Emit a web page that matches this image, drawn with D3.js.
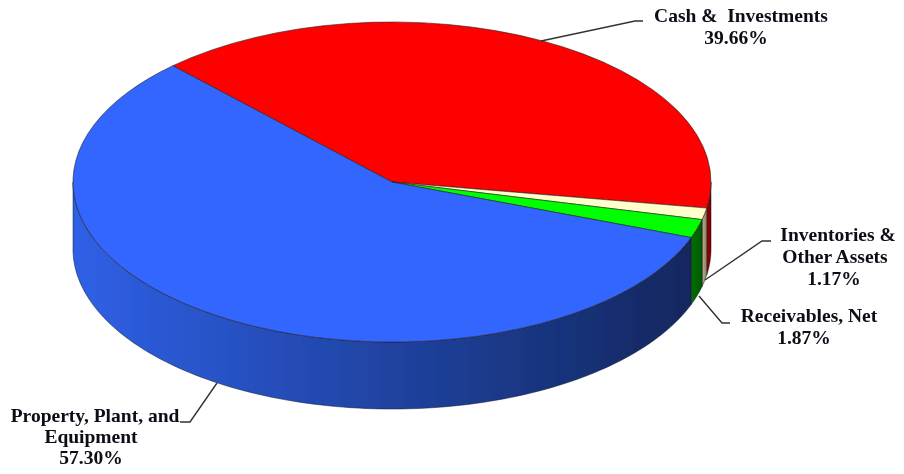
<!DOCTYPE html>
<html>
<head>
<meta charset="utf-8">
<script src="https://cdnjs.cloudflare.com/ajax/libs/d3/7.8.5/d3.min.js"></script>
<style>
  html, body { margin:0; padding:0; background:#fff; }
  svg { display:block; }
  .label { font-family:"Liberation Serif", serif; font-weight:bold; font-size:19.5px; fill:#0a0a18; text-anchor:middle; }
  .leader { fill:none; stroke:#333; stroke-width:1.4; }
</style>
</head>
<body>
<svg id="chart" width="904" height="474"></svg>
<script>
// Data
var categories = ["Cash & Investments", "Inventories & Other Assets", "Receivables, Net", "Property, Plant, and Equipment"];
var shares = [39.66, 1.17, 1.87, 57.30];
var topColors = ["#ff0000", "#ffffcc", "#00ff00", "#3366ff"];
var sideColorsLight = ["#a00000", "#b8b088", "#007000", "#2f60e6"];
var sideColorsDark = ["#7a0000", "#8a8060", "#005800", "#12275f"];

// Layout
var cx = 392, cy = 182, rx = 319, ry = 160, depth = 67;
var startAngle = -43.4 * Math.PI / 180;

var svg = d3.select("#chart");
var defs = svg.append("defs");

var soften = defs.append("filter").attr("id", "soften");
soften.append("feGaussianBlur").attr("stdDeviation", 0.4);

var pie = d3.pie().sort(null).value(function(d) { return d; })
            .startAngle(startAngle).endAngle(startAngle + 2 * Math.PI);
var slices = pie(shares);

var xAt = function(a) { return cx + rx * Math.sin(a); };
var yAt = function(a) { return cy - ry * Math.cos(a); };

// Side wall, only the front half of the rim shows
var wall = d3.area()
             .x(function(a) { return xAt(a); })
             .y0(function(a) { return yAt(a); })
             .y1(function(a) { return yAt(a) + depth; });

var chart = svg.append("g").attr("filter", "url(#soften)");

slices.forEach(function(s, i) {
  var a0 = Math.max(s.startAngle, Math.PI / 2);
  var a1 = Math.min(s.endAngle, 3 * Math.PI / 2);
  if (a1 <= a0) return;
  var angles = d3.range(0, 121).map(function(k) { return a0 + (a1 - a0) * k / 120; });
  var x0 = d3.min(angles, xAt), x1 = d3.max(angles, xAt);

  var grad = defs.append("linearGradient")
                 .attr("id", "side" + i)
                 .attr("gradientUnits", "userSpaceOnUse")
                 .attr("x1", x0).attr("x2", x1).attr("y1", 0).attr("y2", 0);
  grad.append("stop").attr("offset", 0).attr("stop-color", sideColorsLight[i]);
  grad.append("stop").attr("offset", 1).attr("stop-color", sideColorsDark[i]);

  chart.append("path")
       .attr("d", wall(angles))
       .attr("fill", "url(#side" + i + ")")
       .attr("stroke", "#101828")
       .attr("stroke-width", 0.5);
});

// Top face, drawn as a circle then squashed
var arc = d3.arc().innerRadius(0).outerRadius(rx);
chart.append("g")
     .attr("transform", "translate(" + cx + "," + cy + ") scale(1," + (ry / rx) + ")")
     .selectAll("path")
     .data(slices)
     .enter()
     .append("path")
     .attr("d", arc)
     .attr("fill", function(d, i) { return topColors[i]; })
     .attr("stroke", "#222")
     .attr("stroke-width", 0.6)
     .attr("vector-effect", "non-scaling-stroke");

// Leader lines
var leaders = [
  [[541, 41], [635, 21], [643, 21]],
  [[705, 280], [762, 241], [771, 241]],
  [[699, 296], [722, 323], [730, 323]],
  [[217, 383], [190, 422], [180, 422]]
];
var leaderLine = d3.line();
svg.selectAll(".leader")
   .data(leaders)
   .enter()
   .append("path")
   .attr("class", "leader")
   .attr("filter", "url(#soften)")
   .attr("d", leaderLine);

// Labels, each line centred where it sits in the picture
var labelLines = [
  ["Cash &  Investments", 741, 22],
  ["39.66%", 736, 44],
  ["Inventories &", 838, 241],
  ["Other Assets", 835, 263],
  ["1.17%", 834, 285],
  ["Receivables, Net", 809, 322],
  ["1.87%", 804, 344],
  ["Property, Plant, and", 95, 422],
  ["Equipment", 91, 443],
  ["57.30%", 91, 464]
];
svg.selectAll(".label")
   .data(labelLines)
   .enter()
   .append("text")
   .attr("class", "label")
   .attr("x", function(d) { return d[1]; })
   .attr("y", function(d) { return d[2]; })
   .attr("filter", "url(#soften)")
   .style("white-space", "pre")
   .text(function(d) { return d[0]; });
</script>
</body>
</html>
